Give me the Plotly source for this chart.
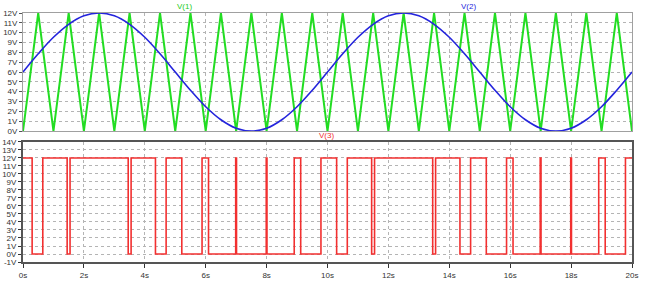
import plotly.graph_objects as go
from plotly.subplots import make_subplots

# ---- data ----
t_half = [0, 0.5, 1, 1.5, 2, 2.5, 3, 3.5, 4, 4.5, 5, 5.5, 6, 6.5, 7, 7.5, 8, 8.5, 9, 9.5,
          10, 10.5, 11, 11.5, 12, 12.5, 13, 13.5, 14, 14.5, 15, 15.5, 16, 16.5, 17, 17.5,
          18, 18.5, 19, 19.5, 20]
v1_tri = [0, 12, 0, 12, 0, 12, 0, 12, 0, 12, 0, 12, 0, 12, 0, 12, 0, 12, 0, 12,
          0, 12, 0, 12, 0, 12, 0, 12, 0, 12, 0, 12, 0, 12, 0, 12, 0, 12, 0, 12, 0]
v2_sine = [6.00, 7.85, 9.53, 10.85, 11.71, 12.00, 11.71, 10.85, 9.53, 7.85,
           6.00, 4.15, 2.47, 1.15, 0.29, 0.00, 0.29, 1.15, 2.47, 4.15,
           6.00, 7.85, 9.53, 10.85, 11.71, 12.00, 11.71, 10.85, 9.53, 7.85,
           6.00, 4.15, 2.47, 1.15, 0.29, 0.00, 0.29, 1.15, 2.47, 4.15, 6.00]
v3_t = [0, 0.30, 0.65, 1.45, 1.545, 3.455, 3.55, 4.35, 4.70, 5.215, 5.88, 6.093, 6.985,
        7.012, 7.988, 8.012, 8.907, 9.12, 9.785,
        10.30, 10.65, 11.45, 11.545, 13.455, 13.55, 14.35, 14.70, 15.215, 15.88, 16.093,
        16.985, 17.012, 17.988, 18.012, 18.907, 19.12, 19.785, 20]
v3_v = [12, 0, 12, 0, 12, 0, 12, 0, 12, 0, 12, 0, 12, 0, 12, 0, 12, 0, 12,
        0, 12, 0, 12, 0, 12, 0, 12, 0, 12, 0, 12, 0, 12, 0, 12, 0, 12, 12]

x_ticks = [0, 2, 4, 6, 8, 10, 12, 14, 16, 18, 20]
x_labels = [f"{v}s" for v in x_ticks]
top_ticks = list(range(0, 13))
top_labels = [f"{v}V" for v in top_ticks]
bot_ticks = list(range(-1, 15))
bot_labels = [f"{v}V" for v in bot_ticks]

fig = make_subplots(rows=2, cols=1, shared_xaxes=False)

fig.add_trace(go.Scatter(x=t_half, y=v1_tri, mode="lines",
                         line=dict(color="#22dd22", width=2), name="V(1)"), row=1, col=1)
fig.add_trace(go.Scatter(x=t_half, y=v2_sine, mode="lines",
                         line=dict(color="#2424dc", width=1.6, shape="spline"),
                         name="V(2)"), row=1, col=1)
fig.add_trace(go.Scatter(x=v3_t, y=v3_v, mode="lines",
                         line=dict(color="#f23030", width=1.6, shape="hv"),
                         name="V(3)"), row=2, col=1)

tickfont = dict(family="Liberation Sans, Arial, sans-serif", size=8, color="#333333")
grid = dict(showgrid=True, gridcolor="#b4b4b4", griddash="dot", gridwidth=1)

fig.update_xaxes(range=[0, 20], tickvals=x_ticks, ticktext=x_labels, zeroline=False,
                 tickfont=tickfont, automargin=False, **grid)
fig.update_xaxes(row=1, col=1, showticklabels=False, showline=True, linecolor="#a0a0a0",
                 linewidth=1, mirror=True, ticks="")
fig.update_xaxes(row=2, col=1, showline=True, linecolor="#555555", linewidth=2,
                 mirror=True, ticks="outside", ticklen=4, tickcolor="#333333")

fig.update_yaxes(row=1, col=1, range=[0, 12], tickvals=top_ticks, ticktext=top_labels,
                 showline=True, linecolor="#a0a0a0", linewidth=1, mirror=True,
                 ticks="outside", ticklen=3, tickcolor="#555555", zeroline=False,
                 tickfont=tickfont, automargin=False, **grid)
fig.update_yaxes(row=2, col=1, range=[-1, 14], tickvals=bot_ticks, ticktext=bot_labels,
                 showline=True, linecolor="#555555", linewidth=2, mirror=True,
                 ticks="outside", ticklen=3, tickcolor="#333333", zeroline=False,
                 tickfont=tickfont, automargin=False, **grid)

fig.update_layout(
    width=648, height=288,
    margin=dict(l=23, r=16, t=13, b=26),
    paper_bgcolor="white", plot_bgcolor="white",
    showlegend=False,
    xaxis=dict(domain=[0, 1]), xaxis2=dict(domain=[0, 1]),
    yaxis=dict(domain=[0.526, 1.0]), yaxis2=dict(domain=[0.0, 0.482]),
)

lab_font = dict(family="Liberation Sans, Arial, sans-serif", size=8)
fig.add_annotation(x=0.25, y=1.0, xref="paper", yref="paper", yanchor="bottom",
                   text="V(1)", showarrow=False, font=dict(color="#22cc22", **lab_font))
fig.add_annotation(x=0.747, y=1.0, xref="paper", yref="paper", yanchor="bottom",
                   text="V(2)", showarrow=False, font=dict(color="#2424dc", **lab_font))
fig.add_annotation(x=0.499, y=0.482, xref="paper", yref="paper", yanchor="bottom",
                   text="V(3)", showarrow=False, font=dict(color="#f23030", **lab_font))

fig.write_html("out.html")
